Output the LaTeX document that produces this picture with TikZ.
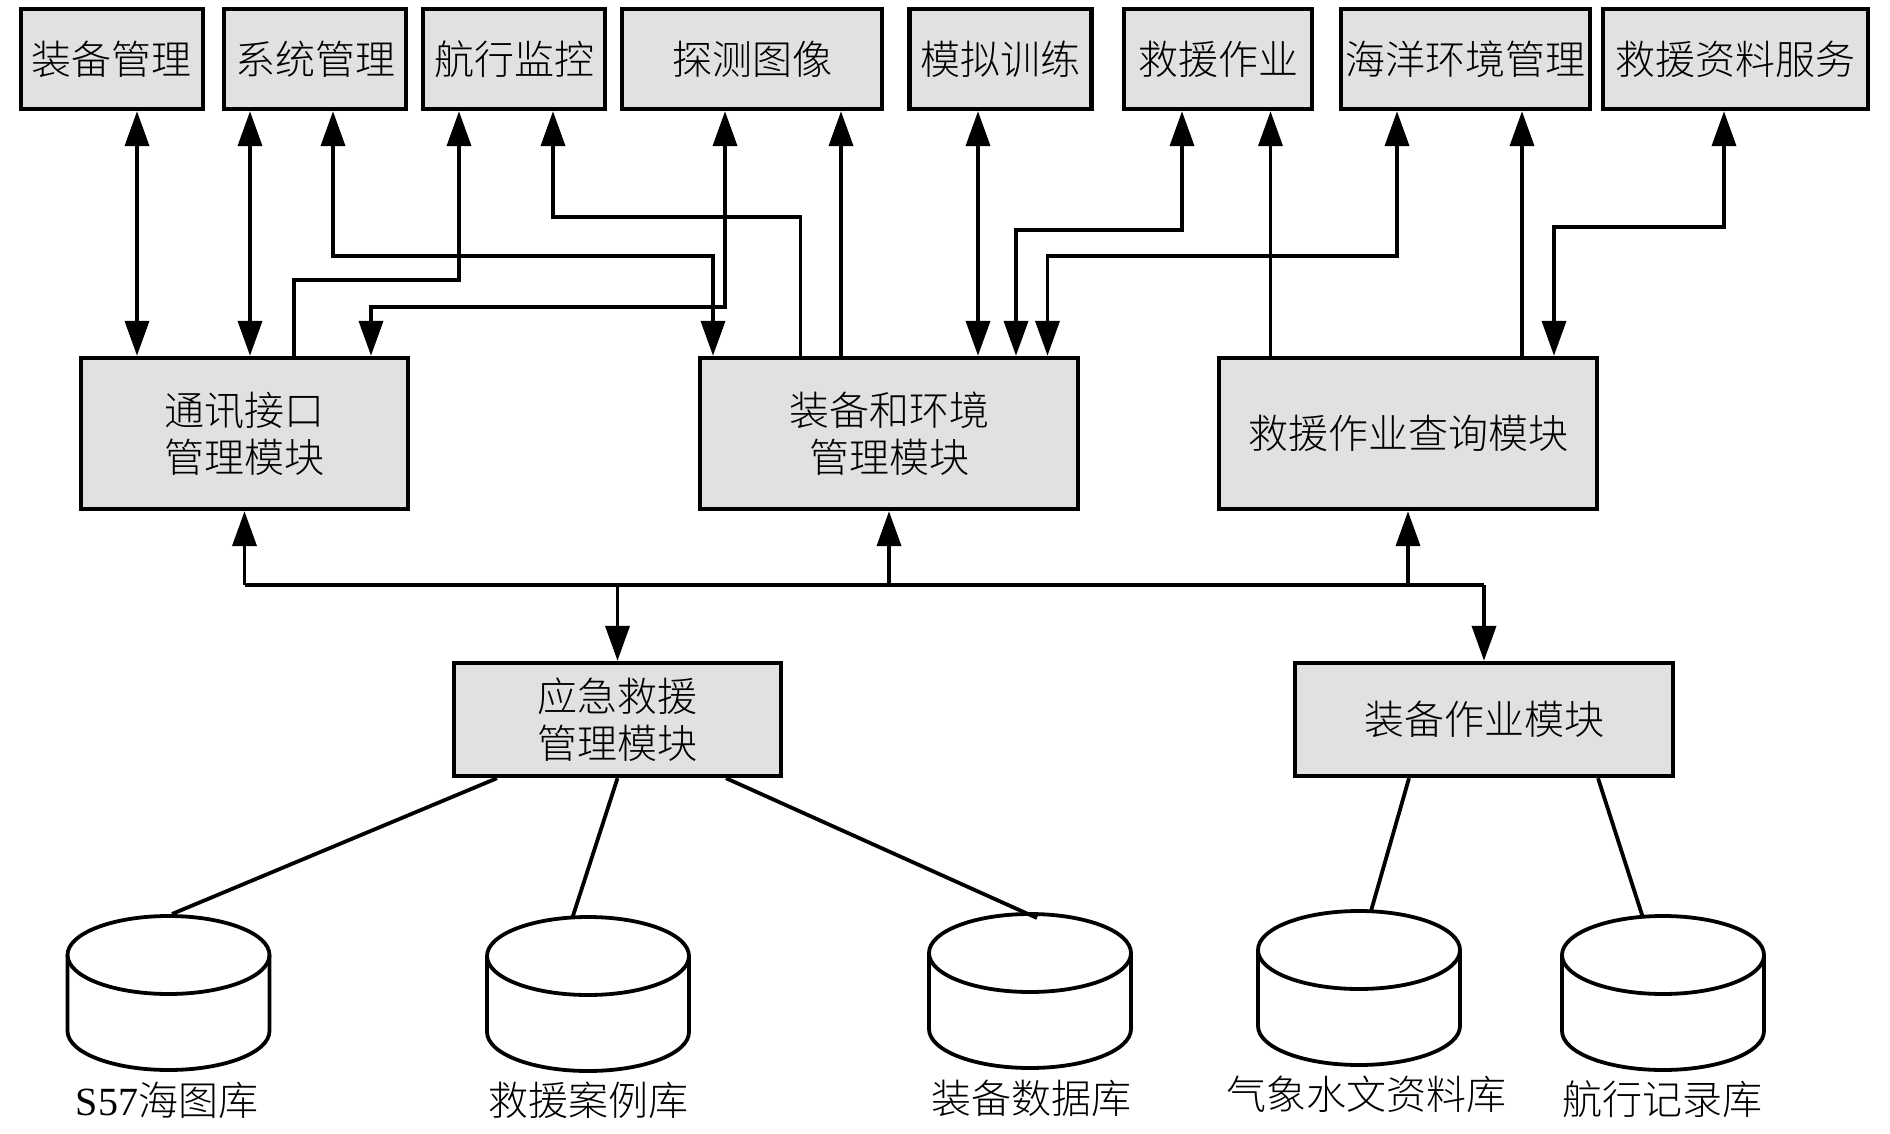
\documentclass[tikz,border=0pt]{standalone}
\usepackage{fontspec}
\setmainfont{Liberation Serif}
\newfontfamily\cjk{Noto Sans CJK SC Light}
\usetikzlibrary{arrows.meta}
\definecolor{boxgray}{RGB}{225,225,225}
\newcommand\dbcyl[2]{%
  \draw[cylline,fill=white] (#1-101,#2+39) -- (#1-101,#2+115)
     arc[start angle=180,end angle=360,x radius=50.5pt,y radius=19.5pt] -- (#1+101,#2+39);
  \draw[cylline] (#1,#2+39) ellipse[x radius=50.5pt,y radius=19.5pt];}
\begin{document}
\begin{tikzpicture}[x=0.5pt,y=-0.5pt,
  box/.style={draw=black, fill=boxgray, line width=2.2pt, inner sep=0pt,
    font=\cjk\fontsize{20}{23.5}\selectfont, align=center},
  lbl/.style={inner sep=0pt, font=\cjk\fontsize{20}{23.5}\selectfont},
  conn/.style={line width=1.9pt, line join=miter},
  cylline/.style={line width=1.9pt},
  arrone/.style={conn, -{Triangle[length=17.5pt,width=12pt]}},
  arrtwo/.style={conn, {Triangle[length=17.5pt,width=12pt]}-{Triangle[length=17.5pt,width=12pt]}}]
\useasboundingbox (0,0) rectangle (1890,1134);
% top row
\node[box, minimum width=91pt,   minimum height=50pt] (t1) at (112,59)    {装备管理};
\node[box, minimum width=91pt,   minimum height=50pt] (t2) at (315,59)    {系统管理};
\node[box, minimum width=91pt,   minimum height=50pt] (t3) at (514,59)    {航行监控};
\node[box, minimum width=130pt,  minimum height=50pt] (t4) at (752,59)    {探测图像};
\node[box, minimum width=91pt,   minimum height=50pt] (t5) at (1000.5,59) {模拟训练};
\node[box, minimum width=94pt,   minimum height=50pt] (t6) at (1218,59)   {救援作业};
\node[box, minimum width=124.5pt,minimum height=50pt] (t7) at (1465.5,59) {海洋环境管理};
\node[box, minimum width=132.5pt,minimum height=50pt] (t8) at (1735.5,59) {救援资料服务};
% middle row
\node[box, minimum width=163.5pt, minimum height=75.5pt] (m1) at (244.5,433.5) {通讯接口\\管理模块};
\node[box, minimum width=189pt,   minimum height=75.5pt] (m2) at (889,433.5)   {装备和环境\\管理模块};
\node[box, minimum width=189pt,   minimum height=75.5pt] (m3) at (1408,433.5)  {救援作业查询模块};
% lower row
\node[box, minimum width=163.5pt, minimum height=56.5pt] (e1) at (617.5,719.5) {应急救援\\管理模块};
\node[box, minimum width=189pt,   minimum height=56.5pt] (e2) at (1484,719.5)  {装备作业模块};
% column coordinates
\coordinate (k1) at (137,0);
\coordinate (k2) at (250,0);
\coordinate (k3a) at (333,256);  \coordinate (k3b) at (713,256);
\coordinate (k4a) at (294,280);  \coordinate (k4b) at (459,280);
\coordinate (k5a) at (800.5,217);\coordinate (k5b) at (553,217);
\coordinate (k6a) at (725,307);  \coordinate (k6b) at (371,307);
\coordinate (k7) at (841,0);
\coordinate (k8) at (978,0);
\coordinate (k9a) at (1182,230); \coordinate (k9b) at (1016,230);
\coordinate (k10) at (1270.5,0);
\coordinate (k11a) at (1397,256);\coordinate (k11b) at (1047.5,256);
\coordinate (k12) at (1522,0);
\coordinate (k13a) at (1724,227);\coordinate (k13b) at (1554,227);
% connectors top
\draw[arrtwo] (t1.south -| k1) -- (m1.north -| k1);
\draw[arrtwo] (t2.south -| k2) -- (m1.north -| k2);
\draw[arrtwo] (t2.south -| k3a) -- (k3a) -- (k3b) -- (m2.north -| k3b);
\draw[arrone] (m1.north -| k4a) -- (k4a) -- (k4b) -- (t3.south -| k4b);
\draw[arrone] (m2.north -| k5a) -- (k5a) -- (k5b) -- (t3.south -| k5b);
\draw[arrtwo] (t4.south -| k6a) -- (k6a) -- (k6b) -- (m1.north -| k6b);
\draw[arrone] (m2.north -| k7) -- (t4.south -| k7);
\draw[arrtwo] (t5.south -| k8) -- (m2.north -| k8);
\draw[arrtwo] (t6.south -| k9a) -- (k9a) -- (k9b) -- (m2.north -| k9b);
\draw[arrone] (m3.north -| k10) -- (t6.south -| k10);
\draw[arrtwo] (t7.south -| k11a) -- (k11a) -- (k11b) -- (m2.north -| k11b);
\draw[arrone] (m3.north -| k12) -- (t7.south -| k12);
\draw[arrtwo] (t8.south -| k13a) -- (k13a) -- (k13b) -- (m3.north -| k13b);
% bus
\coordinate (bus) at (0,585);
\draw[conn] (m1.south |- bus) -- (e2.north |- bus);
\draw[arrone] (m1.south |- bus) -- (m1.south);
\draw[arrone] (m2.south |- bus) -- (m2.south);
\draw[arrone] (m3.south |- bus) -- (m3.south);
\draw[arrone] (e1.north |- bus) -- (e1.north);
\draw[arrone] (e2.north |- bus) -- (e2.north);
% databases
\dbcyl{168.5}{916}
\dbcyl{588}{917}
\dbcyl{1030}{914}
\dbcyl{1359}{911}
\dbcyl{1663}{916}
\coordinate (d1) at (172,914);
\coordinate (d2) at (572.6,917);
\coordinate (d3) at (1037,918);
\coordinate (d4) at (1371,911);
\coordinate (d5) at (1642.4,916);
\coordinate (s1) at (497,0);
\coordinate (s3) at (726,0);
\coordinate (s4) at (1409,0);
\coordinate (s5) at (1598,0);
\draw[conn] (e1.south -| s1) -- (d1);
\draw[conn] (e1.south) -- (d2);
\draw[conn] (e1.south -| s3) -- (d3);
\draw[conn] (e2.south -| s4) -- (d4);
\draw[conn] (e2.south -| s5) -- (d5);
% labels
\node[lbl] (l1) at (167,1100.5) {{\rmfamily S57}海图库};
\node[lbl] (l2) at (588,1100.5) {救援案例库};
\node[lbl] (l3) at (1031,1098.5) {装备数据库};
\node[lbl] (l4) at (1366,1094) {气象水文资料库};
\node[lbl] (l5) at (1662.5,1099.5) {航行记录库};
\end{tikzpicture}
\end{document}
